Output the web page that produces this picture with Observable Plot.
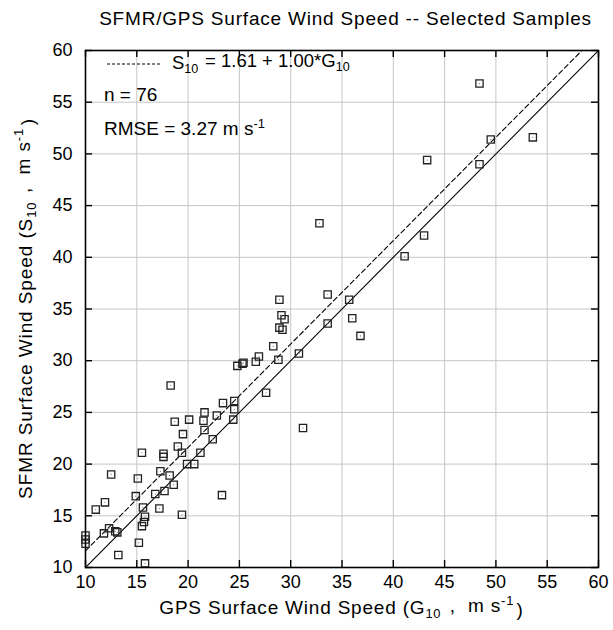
<!DOCTYPE html>
<html>
<head>
<meta charset="utf-8">
<script src="https://cdn.jsdelivr.net/npm/d3@7"></script>
<script src="https://cdn.jsdelivr.net/npm/@observablehq/plot@0.6"></script>
<style>
  html, body { margin: 0; padding: 0; background: #fff; }
  svg text { font-family: "Liberation Sans", Arial, Helvetica, sans-serif; }
</style>
</head>
<body>
<div id="chart"></div>
<script>
// GPS surface wind speed G10 (m/s)
const gpsG10 = [
  48.4, 49.5, 53.6, 48.4, 43.3, 43.0, 41.1, 32.8, 33.6, 35.7,
  36.0, 33.6, 36.8, 31.2, 30.8, 28.9, 29.1, 29.4, 28.9, 29.2,
  28.3, 28.8, 26.9, 26.6, 25.3, 25.4, 24.8, 27.6, 24.5, 24.5,
  23.4, 22.8, 24.4, 21.6, 21.5, 21.6, 20.1, 18.7, 18.3, 22.4,
  21.2, 20.6, 19.9, 19.5, 19.4, 19.0, 17.6, 17.6, 17.3, 18.2,
  18.6, 17.7, 16.8, 17.2, 19.4, 23.3, 15.5, 15.1, 14.9, 15.6,
  15.8, 15.7, 15.5, 15.2, 15.8, 12.5, 11.9, 11.0, 12.3, 11.8,
  12.9, 13.1, 13.2, 10.0, 10.0, 10.0
];
// SFMR surface wind speed S10 (m/s)
const sfmrS10 = [
  56.8, 51.4, 51.6, 49.0, 49.4, 42.1, 40.1, 43.3, 36.4, 35.9,
  34.1, 33.6, 32.4, 23.5, 30.7, 35.9, 34.4, 34.0, 33.2, 33.0,
  31.4, 30.1, 30.4, 29.9, 29.7, 29.8, 29.5, 26.9, 26.1, 25.3,
  25.9, 24.7, 24.3, 25.0, 24.2, 23.3, 24.3, 24.1, 27.6, 22.4,
  21.1, 20.0, 20.0, 22.9, 21.1, 21.7, 21.0, 20.7, 19.3, 18.9,
  18.0, 17.4, 17.1, 15.7, 15.1, 17.0, 21.1, 18.6, 16.9, 15.8,
  14.9, 14.4, 14.0, 12.4, 10.4, 19.0, 16.3, 15.6, 13.8, 13.3,
  13.5, 13.4, 11.2, 13.1, 12.7, 12.3
];
const xTicks = [10, 15, 20, 25, 30, 35, 40, 45, 50, 55, 60];
const yTicks = [10, 15, 20, 25, 30, 35, 40, 45, 50, 55, 60];
const fitIntercept = 1.61;
const fitSlope = 1.00;
const nSamples = 76;
const rmse = 3.27;
const lineXs = [10, 60];

const points = gpsG10.map((g, i) => ({g, s: sfmrS10[i]}));
const oneToOne = lineXs.map(x => ({x, y: x}));
const fitLine = lineXs.map(x => ({x, y: fitIntercept + fitSlope * x}));

const W = 613, H = 630;
const mL = 85, mR = 15, mT = 50, mB = 63;
const plotW = W - mL - mR, plotH = H - mT - mB;
const tick = 7;

const gridStyle = {stroke: "#c6c6c6", strokeWidth: 1};
const tickStyle = {stroke: "#000", strokeWidth: 1.4};

const chart = Plot.plot({
  width: W, height: H,
  marginLeft: mL, marginRight: mR, marginTop: mT, marginBottom: mB,
  x: {domain: [10, 60]},
  y: {domain: [10, 60]},
  style: {fontFamily: "Liberation Sans, Arial, sans-serif", background: "#fff", color: "#000"},
  marks: [
    Plot.ruleX(xTicks, {x: d => d, ...gridStyle}),
    Plot.ruleY(yTicks, {y: d => d, ...gridStyle}),
    Plot.line(oneToOne, {x: "x", y: "y", stroke: "#000", strokeWidth: 1.1, clip: true}),
    Plot.line(fitLine, {x: "x", y: "y", stroke: "#000", strokeWidth: 1.1, strokeDasharray: "5,3", clip: true}),
    Plot.dot(points, {x: "g", y: "s", symbol: "square", r: 4.1, stroke: "#222", strokeWidth: 1.3, fill: "none"}),
    Plot.dot(points, {x: "g", y: "s", r: 0.6, fill: "#777", stroke: null}),
    Plot.frame({stroke: "#000", strokeWidth: 1.6}),
    // inward ticks on all four sides
    Plot.ruleX(xTicks, {x: d => d, insetTop: plotH - tick, ...tickStyle}),
    Plot.ruleX(xTicks, {x: d => d, insetBottom: plotH - tick, ...tickStyle}),
    Plot.ruleY(yTicks, {y: d => d, insetRight: plotW - tick, ...tickStyle}),
    Plot.ruleY(yTicks, {y: d => d, insetLeft: plotW - tick, ...tickStyle}),
    // tick labels
    Plot.axisX(xTicks, {anchor: "bottom", tickSize: 0, tickPadding: 8, fontSize: 18, label: null}),
    Plot.axisY(yTicks, {anchor: "left", tickSize: 0, tickPadding: 13, fontSize: 18, label: null})
  ]
});

document.getElementById("chart").appendChild(chart);

const svg = d3.select(chart);
const cx = mL + plotW / 2;

function richText(parent, parts, attrs) {
  const t = parent.append("text");
  Object.entries(attrs).forEach(([k, v]) => t.attr(k, v));
  parts.forEach(p => {
    if (typeof p === "string") {
      t.append("tspan").text(p);
    } else if (p.sub) {
      t.append("tspan").attr("dy", "0.3em").attr("font-size", "0.68em").text(p.sub);
      t.append("tspan").attr("dy", "-0.3em").text("\u200A");
    } else if (p.sup) {
      t.append("tspan").attr("dy", "-0.55em").attr("font-size", "0.68em").text(p.sup);
      t.append("tspan").attr("dy", "0.55em").text("\u200A");
    }
  });
  return t;
}

// title
richText(svg, ["SFMR/GPS Surface Wind Speed -- Selected Samples"],
  {x: cx + 4, y: 25, "text-anchor": "middle", "font-size": 19, "letter-spacing": 0.8, fill: "#000"});

// x label
richText(svg, ["GPS Surface Wind Speed (G", {sub: "10"}, " ,  m s", {sup: "-1"}, ")"],
  {x: cx, y: 614, "text-anchor": "middle", "font-size": 19, "letter-spacing": 0.8, fill: "#000"});

// y label
richText(svg, ["SFMR Surface Wind Speed (S", {sub: "10"}, " ,  m s", {sup: "-1"}, ")"],
  {x: 0, y: 0, "text-anchor": "middle", "font-size": 19, "letter-spacing": 0.9, fill: "#000",
   transform: `translate(32, ${mT + plotH / 2}) rotate(-90)`});

// in-plot legend
svg.append("line").attr("x1", 107).attr("x2", 161).attr("y1", 64).attr("y2", 64)
  .attr("stroke", "#000").attr("stroke-width", 1).attr("stroke-dasharray", "3,2");
richText(svg, ["S", {sub: "10"}, ` = ${fitIntercept.toFixed(2)} + ${fitSlope.toFixed(2)}*G`, {sub: "10"}],
  {x: 172, y: 69, "text-anchor": "start", "font-size": 18.5, fill: "#000"});
richText(svg, [`n = ${nSamples}`], {x: 104, y: 101, "text-anchor": "start", "font-size": 19, fill: "#000"});
richText(svg, [`RMSE = ${rmse.toFixed(2)} m s`, {sup: "-1"}], {x: 104, y: 135, "text-anchor": "start", "font-size": 19, fill: "#000"});
</script>
</body>
</html>
